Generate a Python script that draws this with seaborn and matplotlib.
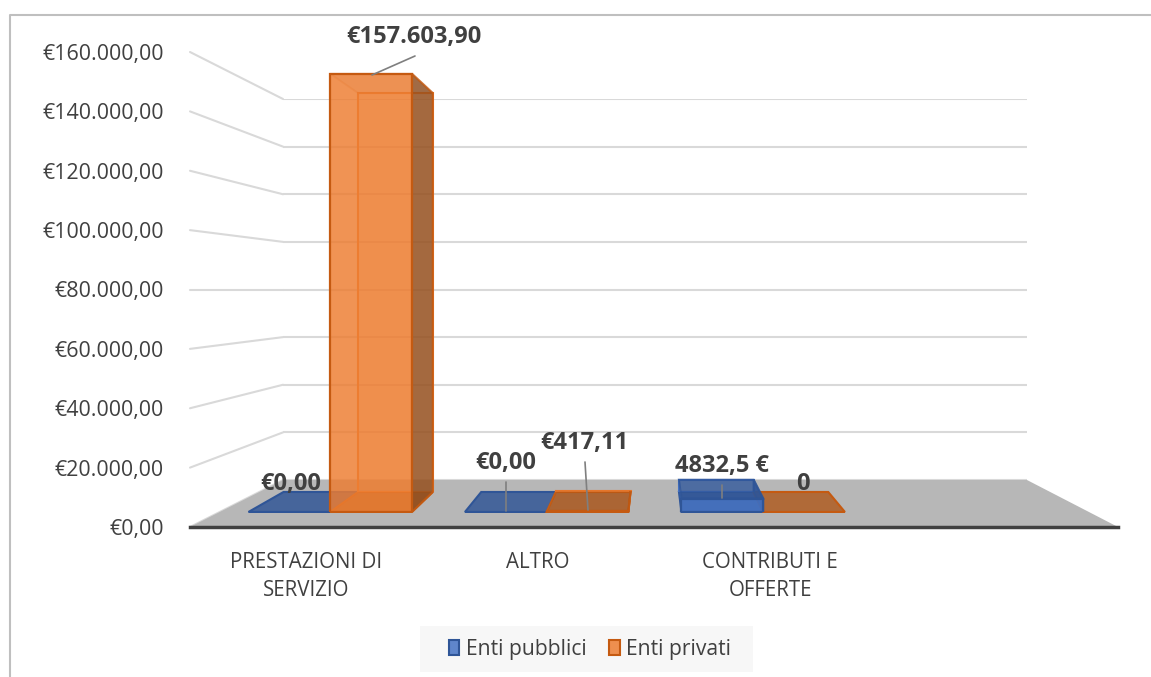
import matplotlib
matplotlib.use("Agg")
import matplotlib.pyplot as plt
from matplotlib.patches import Polygon, Patch, Rectangle
import seaborn as sns
import pandas as pd

categorie = ["PRESTAZIONI DI\nSERVIZIO", "ALTRO", "CONTRIBUTI E\nOFFERTE"]
enti = ["Enti pubblici", "Enti privati"]
valori_pubblici = [0.0, 0.0, 4832.5]
valori_privati = [157603.90, 417.11, 0.0]
etichette_pubblici = ["€0,00", "€0,00", "4832,5 €"]
etichette_privati = ["€157.603,90", "€417,11", "0"]
tick_valori = [0, 20000, 40000, 60000, 80000, 100000, 120000, 140000, 160000]

W, H = 1151, 677
FONT = "Open Sans"
TXT = "#404040"
GRID = "#D9D9D9"
EDGE = {"Enti pubblici": "#2F5597", "Enti privati": "#C55A11"}
FILL = {"Enti pubblici": "#4472C4", "Enti privati": "#ED7D31"}
BOTTOM = {"Enti pubblici": "#46659B", "Enti privati": "#B06A38"}
SIDE = {"Enti pubblici": "#2F5597", "Enti privati": "#8F4E1F"}
TOP_ALPHA = {"Enti pubblici": 0.7, "Enti privati": 0.15}

sns.set_theme(style="white")
plt.rcParams["font.family"] = [FONT, "DejaVu Sans"]

df = pd.DataFrame({
    "categoria": categorie * 2,
    "ente": [enti[0]] * 3 + [enti[1]] * 3,
    "valore": valori_pubblici + valori_privati,
})
ordine = categorie + [""]

fig = plt.figure(figsize=(W / 100, H / 100), dpi=100)


def piano(d, z, dl=0, dr=0):
    # axes of a vertical plane at depth d (0 = front, 1 = back wall)
    left, right = 190 + 93 * d + dl, 1118 - 91 * d + dr
    base, top = 527 - 47 * d, 52 + 47 * d
    ax = fig.add_axes([left / W, 1 - base / H, (right - left) / W, (base - top) / H], zorder=z)
    ax.set_xlim(-0.5, 3.5)
    ax.set_ylim(0, 160000)
    ax.patch.set_visible(False)
    for s in ax.spines.values():
        s.set_visible(False)
    return ax


def px(ax, x, y):
    a, b = ax.transData.transform((x, y))
    return a, H - b


def barre(d, z, dl=0, dr=0):
    ax = piano(d, z, dl, dr)
    sns.barplot(data=df, x="categoria", y="valore", hue="ente", order=ordine, hue_order=enti,
                palette=FILL, width=0.755, gap=0, saturation=1, errorbar=None, legend=False, ax=ax)
    ax.set_xlim(-0.5, 3.5)
    ax.set_ylim(0, 160000)
    ax.set_xlabel("")
    ax.set_ylabel("")
    ax.set_xticks([])
    ax.set_yticks([])
    return ax


# background, walls and floor
sfondo = fig.add_axes([0, 0, 1, 1], zorder=0)
sfondo.set_xlim(0, W)
sfondo.set_ylim(H, 0)
sfondo.axis("off")
sfondo.plot([10, 10, W], [H, 15, 15], color="#BFBFBF", lw=1.5, zorder=1)

fronte = piano(0, 6)
parete = piano(1, 1)
parete.hlines(tick_valori, -0.5, 3.5, color=GRID, lw=1.5)
parete.set_xticks([])
parete.set_yticks([])

for v in tick_valori:
    p0, p1 = px(fronte, -0.5, v), px(parete, -0.5, v)
    sfondo.plot([p0[0], p1[0]], [p0[1], p1[1]], color=GRID, lw=1.5, zorder=2)

pavimento = [px(fronte, -0.5, 0), px(parete, -0.5, 0), px(parete, 3.5, 0), px(fronte, 3.5, 0)]
sfondo.add_patch(Polygon(pavimento, closed=True, facecolor="#B7B7B7", edgecolor="none", zorder=3))

# bars: same data on the front and back plane of the boxes
dietro = barre(0.745, 2)
davanti = barre(0.32, 5, dl=2.2, dr=-1)
facce = fig.add_axes([0, 0, 1, 1], zorder=3)
facce.set_xlim(0, W)
facce.set_ylim(H, 0)
facce.axis("off")

for ente, cont_b, cont_f in zip(enti, dietro.containers, davanti.containers):
    col, ed = FILL[ente], EDGE[ente]
    for bb, bf in zip(cont_b, cont_f):
        xb0, xb1 = bb.get_x(), bb.get_x() + bb.get_width()
        v = bf.get_height()
        f0, f1 = px(davanti, xb0, 0), px(davanti, xb1, 0)
        b0, b1 = px(dietro, xb0, 0), px(dietro, xb1, 0)
        ft0, ft1 = px(davanti, xb0, v), px(davanti, xb1, v)
        bt0, bt1 = px(dietro, xb0, v), px(dietro, xb1, v)
        sfondo.add_patch(Polygon([f0, f1, b1, b0], closed=True, facecolor=BOTTOM[ente],
                                 edgecolor=ed, lw=1.5, zorder=4))
        if v == 0:
            bb.set_visible(False)
            bf.set_visible(False)
            continue
        bb.set_facecolor(matplotlib.colors.to_rgba(col, 0.3))
        bb.set_edgecolor(col)
        bb.set_linewidth(1.5)
        bf.set_facecolor(matplotlib.colors.to_rgba(col, 0.8))
        bf.set_edgecolor(ed)
        bf.set_linewidth(1.6)
        facce.add_patch(Polygon([f0, ft0, bt0, b0], closed=True, facecolor=col, alpha=0.15,
                                edgecolor=col, lw=1))
        facce.add_patch(Polygon([f1, ft1, bt1, b1], closed=True, facecolor=SIDE[ente], alpha=0.8,
                                edgecolor=ed, lw=1.5))
        facce.add_patch(Polygon([ft0, ft1, bt1, bt0], closed=True, facecolor=SIDE[ente], alpha=TOP_ALPHA[ente],
                                edgecolor=ed, lw=1.5))

# front plane carries the value and category axes
fronte.set_xticks(range(4))
fronte.set_xticklabels(categorie + [""], fontsize=14.8, color=TXT, linespacing=1.45)
fronte.set_yticks(tick_valori)
fronte.set_yticklabels(["€" + f"{v:,.2f}".replace(",", "X").replace(".", ",").replace("X", ".") for v in tick_valori],
                       fontsize=15.4, color=TXT)
fronte.tick_params(axis="y", length=0, pad=19)
fronte.tick_params(axis="x", length=0, pad=18)
fronte.spines["bottom"].set_visible(True)
fronte.spines["bottom"].set_color(TXT)
fronte.spines["bottom"].set_linewidth(2.5)

# data labels with leader lines
sopra = fig.add_axes([0, 0, 1, 1], zorder=7)
sopra.set_xlim(0, W)
sopra.set_ylim(H, 0)
sopra.axis("off")
pos_etichette = [(291, 484), (506, 463), (722, 466), (414, 37), (584, 443), (803, 484)]
for s, (x, y) in zip(etichette_pubblici + etichette_privati, pos_etichette):
    sopra.text(x, y, s, ha="center", va="center", fontsize=17, fontweight="bold", color=TXT)
for xs, ys in [([372, 415], [75, 56]), ([506, 506], [482, 511]), ([585, 588], [462, 510]), ([722, 722], [485, 498])]:
    sopra.plot(xs, ys, color="#7F7F7F", lw=1.2)

# legend
sopra.add_patch(Rectangle((420, 626), 333, 46, facecolor="#F7F7F7", edgecolor="none"))
maniglie = [Patch(facecolor=matplotlib.colors.to_rgba(FILL[e], 0.85), edgecolor=EDGE[e], lw=1.5, label=e) for e in enti]
leg = sopra.legend(handles=maniglie, ncol=2, loc="center", bbox_to_anchor=(590 / W, 1 - 649 / H),
                   bbox_transform=fig.transFigure, frameon=False, fontsize=15.2, labelcolor=TXT,
                   handlelength=0.5, handleheight=0.7, handletextpad=0.3, columnspacing=1.1)

fig.savefig("out.png", dpi=100, facecolor="white")
